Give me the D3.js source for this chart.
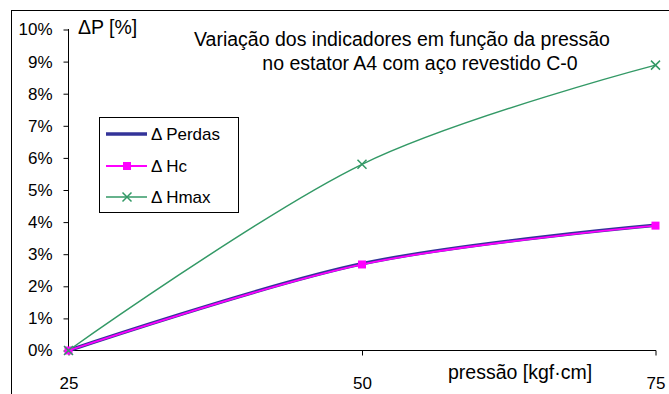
<!DOCTYPE html>
<html>
<head>
    <meta charset="utf-8">
    <title>Variação dos indicadores</title>
    <script src="https://cdnjs.cloudflare.com/ajax/libs/d3/7.8.5/d3.min.js"></script>
    <style>
        body { margin: 0; background: #fff; }
        svg { font-family: "Liberation Sans", Arial, sans-serif; }
        .axis text { font-size: 17px; fill: #000; }
    </style>
</head>
<body>
<script>
    var pressao = [25, 50, 75];
    var perdas = [0, 2.70, 3.90];
    var hc = [0, 2.68, 3.89];
    var hmax = [0, 5.80, 8.89];
    var yTicks = [0, 1, 2, 3, 4, 5, 6, 7, 8, 9, 10];
    var seriesNames = ["\u0394 Perdas", "\u0394 Hc", "\u0394 Hmax"];

    var w = 669, h = 394;
    var svg = d3.select("body").append("svg")
        .attr("width", w)
        .attr("height", h);

    // outer frame (cut off at right and bottom like the source)
    svg.append("rect")
        .attr("x", 11.5).attr("y", 10.5)
        .attr("width", 700).attr("height", 400)
        .attr("fill", "#fff").attr("stroke", "#000");

    var x = d3.scaleLinear().domain([25, 75]).range([68.5, 655.5]);
    var y = d3.scaleLinear().domain([0, 10]).range([350.5, 29.5]);

    svg.append("g")
        .attr("class", "axis")
        .attr("transform", "translate(68.5,0)")
        .call(d3.axisLeft(y).tickValues(yTicks).tickSize(5).tickPadding(11)
            .tickFormat(function(d) { return d + "%"; }))
        .call(function(g) { g.select(".domain").remove(); });

    svg.append("g")
        .attr("class", "axis")
        .attr("transform", "translate(0,350.5)")
        .call(d3.axisBottom(x).tickValues(pressao).tickSize(5).tickPadding(21)
            .tickFormat(d3.format("d")))
        .call(function(g) { g.select(".domain").remove(); });

    svg.selectAll(".axis line").attr("stroke", "#000");

    // axis lines
    svg.append("rect").attr("x", 68).attr("y", 29)
        .attr("width", 1).attr("height", 322).attr("fill", "#000");
    svg.append("rect").attr("x", 68).attr("y", 350)
        .attr("width", 588).attr("height", 1).attr("fill", "#000");

    svg.append("text").attr("x", 78).attr("y", 34)
        .attr("font-size", "19.5px").text("\u0394P [%]");
    svg.append("text").attr("x", 448).attr("y", 379)
        .attr("font-size", "19.5px").text("pressão [kgf·cm]");

    var title = svg.append("text").attr("text-anchor", "middle")
        .attr("font-size", "19.5px");
    title.append("tspan").attr("x", 402).attr("y", 46)
        .text("Variação dos indicadores em função da pressão");
    title.append("tspan").attr("x", 420).attr("y", 70)
        .text("no estator A4 com aço revestido C-0");

    function lineFor(vals) {
        return d3.line()
            .x(function(d, i) { return x(pressao[i]); })
            .y(function(d) { return y(d); })
            .curve(d3.curveCardinal)(vals);
    }

    svg.append("path").attr("d", lineFor(perdas))
        .attr("fill", "none").attr("stroke", "#333399").attr("stroke-width", 3.5);
    svg.append("path").attr("d", lineFor(hc))
        .attr("fill", "none").attr("stroke", "#ff00ff").attr("stroke-width", 1.8);
    svg.append("path").attr("d", lineFor(hmax))
        .attr("fill", "none").attr("stroke", "#339966").attr("stroke-width", 1.5);

    svg.selectAll(".hcmark").data(hc).enter().append("rect")
        .attr("x", function(d, i) { return x(pressao[i]) - 4; })
        .attr("y", function(d) { return y(d) - 4; })
        .attr("width", 8).attr("height", 8)
        .attr("fill", "#ff00ff");

    svg.selectAll(".hmaxmark").data(hmax).enter().append("path")
        .attr("d", "M-4.5,-4.5L4.5,4.5M-4.5,4.5L4.5,-4.5")
        .attr("transform", function(d, i) {
            return "translate(" + x(pressao[i]) + "," + y(d) + ")";
        })
        .attr("stroke", "#339966").attr("stroke-width", 1.5).attr("fill", "none");

    // legend
    var lg = svg.append("g");
    lg.append("rect").attr("x", 99.5).attr("y", 117.5)
        .attr("width", 139).attr("height", 95)
        .attr("fill", "#fff").attr("stroke", "#000");
    var rows = [134, 166, 197];
    var colors = ["#333399", "#ff00ff", "#339966"];
    var widths = [3.5, 1.8, 1.5];
    rows.forEach(function(ry, i) {
        lg.append("line").attr("x1", 106).attr("x2", 147)
            .attr("y1", ry).attr("y2", ry)
            .attr("stroke", colors[i]).attr("stroke-width", widths[i]);
        lg.append("text").attr("x", 151).attr("y", ry + 6)
            .attr("font-size", "17px").text(seriesNames[i]);
    });
    lg.append("rect").attr("x", 123).attr("y", 162).attr("width", 8).attr("height", 8)
        .attr("fill", "#ff00ff");
    lg.append("path").attr("d", "M-4.5,-4.5L4.5,4.5M-4.5,4.5L4.5,-4.5")
        .attr("transform", "translate(127,197)")
        .attr("stroke", "#339966").attr("stroke-width", 1.5);
</script>
</body>
</html>
